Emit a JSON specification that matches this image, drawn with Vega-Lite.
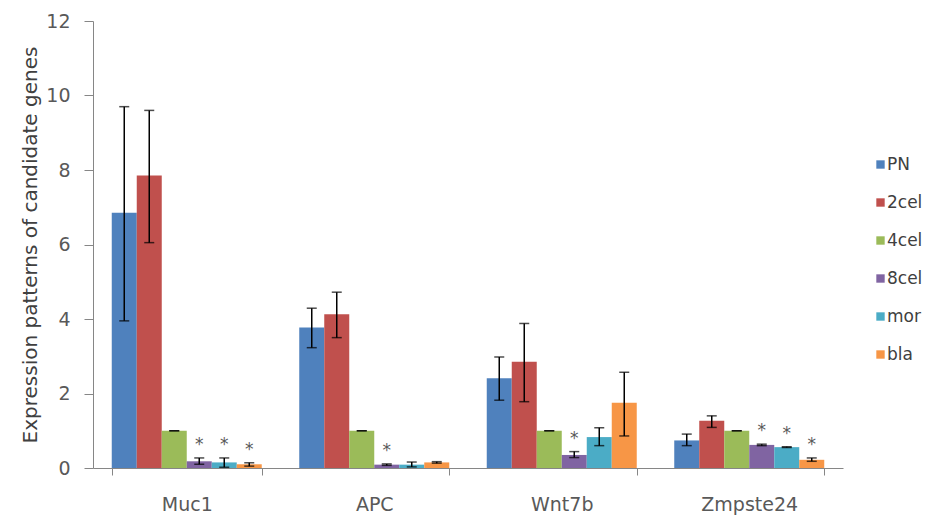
{
  "$schema": "https://vega.github.io/schema/vega-lite/v6.json",
  "width": 750,
  "height": 447,
  "autosize": "none",
  "padding": {"left": 93, "top": 21, "right": 91, "bottom": 51},
  "background": "white",
  "config": {
    "view": {"stroke": null},
    "font": "DejaVu Sans",
    "axis": {"domainColor": "#868686", "tickColor": "#868686", "grid": false, "labelColor": "#595959", "labelFont": "DejaVu Sans", "labelFontSize": 19, "titleFont": "DejaVu Sans"}
  },
  "data": {
    "values": [
      {"gene": "Muc1", "stage": "PN", "value": 6.85, "lo": 3.95, "hi": 9.7, "sig": ""},
      {"gene": "Muc1", "stage": "2cel", "value": 7.85, "lo": 6.05, "hi": 9.6, "sig": ""},
      {"gene": "Muc1", "stage": "4cel", "value": 1.0, "lo": 1.0, "hi": 1.0, "sig": ""},
      {"gene": "Muc1", "stage": "8cel", "value": 0.18, "lo": 0.1, "hi": 0.27, "sig": "*"},
      {"gene": "Muc1", "stage": "mor", "value": 0.15, "lo": 0.02, "hi": 0.27, "sig": "*"},
      {"gene": "Muc1", "stage": "bla", "value": 0.1, "lo": 0.05, "hi": 0.14, "sig": "*"},
      {"gene": "APC", "stage": "PN", "value": 3.77, "lo": 3.23, "hi": 4.29, "sig": ""},
      {"gene": "APC", "stage": "2cel", "value": 4.13, "lo": 3.5, "hi": 4.72, "sig": ""},
      {"gene": "APC", "stage": "4cel", "value": 1.0, "lo": 1.0, "hi": 1.0, "sig": ""},
      {"gene": "APC", "stage": "8cel", "value": 0.09, "lo": 0.07, "hi": 0.11, "sig": "*"},
      {"gene": "APC", "stage": "mor", "value": 0.09, "lo": 0.03, "hi": 0.16, "sig": ""},
      {"gene": "APC", "stage": "bla", "value": 0.15, "lo": 0.13, "hi": 0.17, "sig": ""},
      {"gene": "Wnt7b", "stage": "PN", "value": 2.41, "lo": 1.82, "hi": 2.98, "sig": ""},
      {"gene": "Wnt7b", "stage": "2cel", "value": 2.85, "lo": 1.78, "hi": 3.88, "sig": ""},
      {"gene": "Wnt7b", "stage": "4cel", "value": 1.0, "lo": 1.0, "hi": 1.0, "sig": ""},
      {"gene": "Wnt7b", "stage": "8cel", "value": 0.35, "lo": 0.28, "hi": 0.44, "sig": "*"},
      {"gene": "Wnt7b", "stage": "mor", "value": 0.83, "lo": 0.6, "hi": 1.08, "sig": ""},
      {"gene": "Wnt7b", "stage": "bla", "value": 1.75, "lo": 0.86, "hi": 2.57, "sig": ""},
      {"gene": "Zmpste24", "stage": "PN", "value": 0.74, "lo": 0.6, "hi": 0.91, "sig": ""},
      {"gene": "Zmpste24", "stage": "2cel", "value": 1.27, "lo": 1.09, "hi": 1.4, "sig": ""},
      {"gene": "Zmpste24", "stage": "4cel", "value": 1.0, "lo": 1.0, "hi": 1.0, "sig": ""},
      {"gene": "Zmpste24", "stage": "8cel", "value": 0.62, "lo": 0.6, "hi": 0.64, "sig": "*"},
      {"gene": "Zmpste24", "stage": "mor", "value": 0.56, "lo": 0.55, "hi": 0.57, "sig": "*"},
      {"gene": "Zmpste24", "stage": "bla", "value": 0.22, "lo": 0.18, "hi": 0.27, "sig": "*"}
    ]
  },
  "encoding": {
    "x": {
      "field": "gene", "type": "nominal", "sort": ["Muc1", "APC", "Wnt7b", "Zmpste24"],
      "scale": {"paddingInner": 0.2, "paddingOuter": 0.1},
      "axis": {"title": null, "labelAngle": 0, "tickBand": "extent", "tickSize": 7, "labelPadding": 20}
    },
    "xOffset": {"field": "stage", "type": "nominal", "sort": ["PN", "2cel", "4cel", "8cel", "mor", "bla"], "scale": {"paddingInner": 0, "paddingOuter": 0}}
  },
  "layer": [
    {
      "mark": {"type": "bar"},
      "encoding": {
        "y": {
          "field": "value", "type": "quantitative",
          "scale": {"domain": [0, 12], "nice": false},
          "axis": {"values": [0, 2, 4, 6, 8, 10, 12], "tickSize": 9, "labelPadding": 14, "title": "Expression patterns of candidate genes", "titleFontSize": 20, "titleFontWeight": "normal", "titleColor": "#404040", "titlePadding": 5}
        },
        "color": {
          "field": "stage", "type": "nominal",
          "sort": ["PN", "2cel", "4cel", "8cel", "mor", "bla"],
          "scale": {"domain": ["PN", "2cel", "4cel", "8cel", "mor", "bla"], "range": ["#4F81BD", "#C0504D", "#9BBB59", "#8064A2", "#4BACC6", "#F79646"]},
          "legend": {"title": null, "orient": "none", "legendX": 779, "legendY": 135, "symbolType": "square", "symbolSize": 70, "symbolStrokeWidth": 0, "labelFontSize": 17, "labelColor": "#404040", "labelFont": "DejaVu Sans", "rowPadding": 20, "labelOffset": -2}
        }
      }
    },
    {
      "mark": {"type": "rule", "color": "black", "strokeWidth": 1.5},
      "encoding": {"y": {"field": "lo", "type": "quantitative"}, "y2": {"field": "hi"}}
    },
    {
      "mark": {"type": "tick", "color": "black", "thickness": 1.5, "size": 10},
      "encoding": {"y": {"field": "lo", "type": "quantitative"}}
    },
    {
      "mark": {"type": "tick", "color": "black", "thickness": 1.5, "size": 10},
      "encoding": {"y": {"field": "hi", "type": "quantitative"}}
    },
    {
      "transform": [{"filter": "datum.sig == '*'"}],
      "mark": {"type": "text", "fontSize": 17, "color": "#595959", "dy": -4, "baseline": "bottom", "font": "DejaVu Sans"},
      "encoding": {"y": {"field": "hi", "type": "quantitative"}, "text": {"field": "sig"}}
    }
  ]
}
